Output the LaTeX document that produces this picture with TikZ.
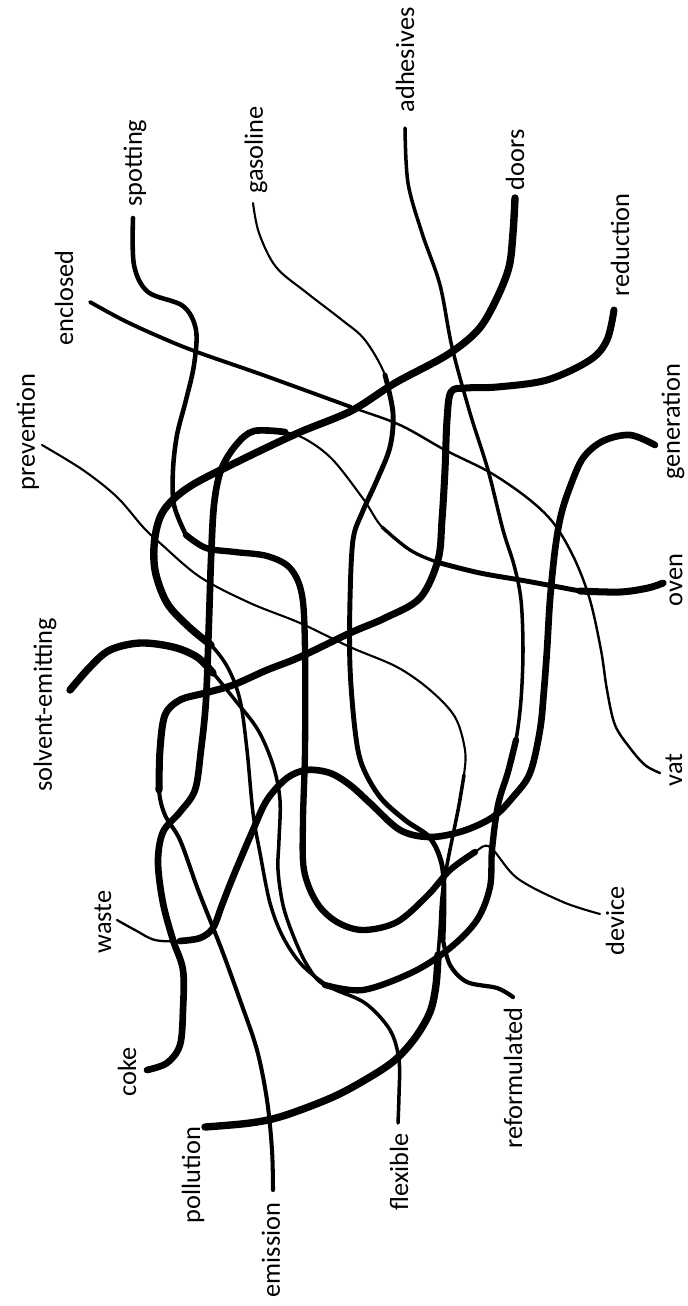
\documentclass[tikz,border=0pt]{standalone}
\usepackage{fontspec}
\setmainfont{Carlito}
\usepackage{tikz}

\begin{document}
\begin{tikzpicture}[
  x=0.02cm, y=-0.02cm,
  word/.style={rotate=90, inner sep=0pt, font=\fontsize{15}{18}\selectfont},
  strand/.style={line width=#1, line cap=round, line join=round},
  strand/.default=1.2pt
]
  \fill[white] (0,0) rectangle (688,1306);
  \useasboundingbox (0,0) rectangle (688,1306);

  % words
  \node[word] (adhesives) at (405,60) {adhesives};
  \node[word] (doors) at (515,160) {doors};
  \node[word] (reduction) at (620,245) {reduction};
  \node[word] (gasoline) at (256,150) {gasoline};
  \node[word] (spotting) at (135,163) {spotting};
  \node[word] (enclosed) at (64,298) {enclosed};
  \node[word] (prevention) at (28,432) {prevention};
  \node[word] (generation) at (673,422) {generation};
  \node[word] (oven) at (676,580) {oven};
  \node[word] (solvent) at (45,705) {solvent-emitting};
  \node[word] (vat) at (674,770) {vat};
  \node[word] (waste) at (103,922) {waste};
  \node[word] (device) at (615,921) {device};
  \node[word] (coke) at (127,1072) {coke};
  \node[word] (reformulated) at (513,1078) {reformulated};
  \node[word] (pollution) at (193,1175) {pollution};
  \node[word] (emission) at (271,1250) {emission};
  \node[word] (flexible) at (399,1172) {flexible};

  % loose ends of the strands
  \coordinate (spot-end) at (133,218);
  \coordinate (dev-end) at (600,914);
  \coordinate (coke-end) at (147,1070);
  \coordinate (oven-end) at (663,583);
  \coordinate (prev-end) at (42,445);
  \coordinate (poll-end) at (205,1127);
  \coordinate (encl-end) at (90,302);
  \coordinate (vat-end) at (660,773);
  \coordinate (red-end) at (614,310);
  \coordinate (emis-end) at (273,1190);
  \coordinate (waste-end) at (117,920);
  \coordinate (gen-end) at (655,445);
  \coordinate (doors-end) at (515,198);
  \coordinate (flex-end) at (398,1123);
  \coordinate (solv-end) at (70,690);
  \coordinate (adh-end) at (405,128);
  \coordinate (gas-end) at (253,203);
  \coordinate (ref-end) at (513,997);

  % spotting -- device
  \draw[strand] plot[smooth, tension=0.55] coordinates {(spot-end) (134,265) (148,292) (183,306) (196,330) (194,365) (186,400) (177,435) (173,470) (174,505) (186,535) (206,548) (235,552) (267,556) (290,568) (302,595) (305,650) (305,750) (303,820) (304,870) (317,903) (337,922) (363,930) (397,922) (428,895) (450,870) (475,852) (490,847) (517,878) (563,902) (dev-end)};
  \draw[strand=2.6pt] plot[smooth, tension=0.55] coordinates {(spot-end) (134,265) (148,292) (183,306) (196,330) (194,365) (186,400) (177,435) (173,470) (174,505) (186,535)};
  \draw[strand=3.6pt] plot[smooth, tension=0.55] coordinates {(186,535) (206,548) (235,552) (267,556) (290,568) (302,595) (305,650) (305,750) (303,820) (304,870) (317,903) (337,922) (363,930) (397,922) (428,895) (450,870) (475,852)};

  % coke -- oven
  \draw[strand] plot[smooth, tension=0.55] coordinates {(coke-end) (167,1063) (180,1045) (183,1010) (183,970) (173,940) (163,903) (158,862) (163,832) (180,812) (195,790) (201,750) (206,700) (209,620) (211,560) (214,505) (221,470) (236,445) (254,431) (285,432) (307,440) (333,460) (364,500) (382,527) (410,550) (440,563) (480,573) (526,581) (580,591) (620,592) (648,588) (oven-end)};
  \draw[strand=3.8pt] plot[smooth, tension=0.55] coordinates {(coke-end) (167,1063) (180,1045) (183,1010) (183,970) (173,940) (163,903) (158,862) (163,832) (180,812) (195,790) (201,750) (206,700) (209,620) (211,560) (214,505) (221,470) (236,445) (254,431) (285,432)};
  \draw[strand=1.9pt] plot[smooth, tension=0.55] coordinates {(382,527) (410,550) (440,563) (480,573)};
  \draw[strand=2.8pt] plot[smooth, tension=0.55] coordinates {(440,563) (480,573) (526,581) (580,591)};
  \draw[strand=4pt] plot[smooth, tension=0.55] coordinates {(580,591) (620,592) (648,588) (oven-end)};

  % prevention -- pollution
  \draw[strand] plot[smooth, tension=0.55] coordinates {(prev-end) (83,470) (117,497) (143,527) (160,543) (200,577) (250,603) (300,623) (350,647) (397,667) (430,690) (455,717) (465,750) (464,775) (459,805) (453,835) (447,865) (442,897) (440,930) (438,955) (436,985) (430,1012) (415,1038) (395,1060) (370,1077) (333,1097) (283,1116) (250,1123) (poll-end)};
  \draw[strand=2pt] plot[smooth, tension=0.55] coordinates {(464,775) (459,805) (453,835) (447,865) (442,897) (440,930) (438,955)};
  \draw[strand=4.2pt] plot[smooth, tension=0.55] coordinates {(438,955) (436,985) (430,1012) (415,1038) (395,1060) (370,1077) (333,1097) (283,1116) (250,1123) (poll-end)};

  % enclosed -- vat
  \draw[strand=1.4pt] plot[smooth, tension=0.55] coordinates {(encl-end) (123,320) (160,337) (197,352) (263,375) (351,407) (400,425) (445,450) (491,473) (530,500) (555,525) (575,560) (590,600) (601,650) (607,690) (615,725) (630,748) (645,765) (vat-end)};
  \draw[strand=2.2pt] plot[smooth, tension=0.55] coordinates {(encl-end) (123,320) (160,337) (197,352) (263,375) (351,407)};

  % reduction -- emission
  \draw[strand=2.3pt] plot[smooth, tension=0.55] coordinates {(red-end) (607,340) (590,360) (547,380) (497,387) (466,388) (451,392) (447,420) (445,470) (442,520) (438,560) (420,598) (385,618) (350,633) (300,657) (267,670) (233,685) (205,693) (180,700) (165,715) (160,750) (159,790) (165,815) (180,840) (197,887) (210,920) (223,953) (240,1000) (257,1050) (267,1100) (272,1150) (emis-end)};
  \draw[strand=4pt] plot[smooth, tension=0.55] coordinates {(red-end) (607,340) (590,360) (547,380) (497,387) (466,388) (451,392) (447,420) (445,470) (442,520) (438,560) (420,598) (385,618) (350,633) (300,657) (267,670) (233,685) (205,693) (180,700) (165,715) (160,750) (159,790)};

  % waste -- generation
  \draw[strand=1.3pt] plot[smooth, tension=0.55] coordinates {(waste-end) (135,930) (155,940) (180,941) (200,938) (213,928) (222,905) (233,877) (253,830) (267,800) (287,778) (307,770) (330,773) (350,785) (370,803) (400,830) (430,837) (463,831) (493,817) (513,797) (530,773) (540,730) (544,690) (547,650) (550,600) (555,550) (561,515) (570,487) (583,458) (603,441) (630,435) (gen-end)};
  \draw[strand=3.8pt] plot[smooth, tension=0.55] coordinates {(180,941) (200,938) (213,928) (222,905) (233,877) (253,830) (267,800) (287,778) (307,770) (330,773) (350,785) (370,803) (400,830) (430,837) (463,831) (493,817) (513,797) (530,773) (540,730) (544,690) (547,650) (550,600) (555,550) (561,515) (570,487) (583,458) (603,441) (630,435) (gen-end)};

  % doors -- flexible
  \draw[strand=2pt] plot[smooth, tension=0.55] coordinates {(doors-end) (513,233) (509,267) (496,300) (478,330) (447,355) (395,383) (351,411) (298,433) (237,462) (189,487) (164,510) (155,537) (155,570) (167,603) (189,627) (211,645) (228,668) (240,700) (247,750) (253,813) (260,853) (270,903) (283,937) (302,965) (330,987) (365,1003) (390,1030) (399,1060) (399,1095) (flex-end)};
  \draw[strand=4.2pt] plot[smooth, tension=0.55] coordinates {(doors-end) (513,233) (509,267) (496,300) (478,330) (447,355) (395,383) (351,411) (298,433) (237,462) (189,487) (164,510) (155,537) (155,570) (167,603) (189,627) (211,645)};

  % solvent-emitting -- adhesives
  \draw[strand=2pt] plot[smooth, tension=0.55] coordinates {(solv-end) (90,667) (110,650) (140,643) (173,647) (197,657) (213,673) (235,700) (258,730) (273,765) (280,800) (279,840) (278,870) (283,905) (293,935) (307,965) (325,985) (363,990) (413,972) (450,948) (477,920) (490,887) (492,850) (498,805) (508,772) (516,740) (521,700) (523,650) (521,600) (514,565) (503,530) (488,470) (470,413) (452,347) (440,285) (422,233) (408,183) (adh-end)};
  \draw[strand=4.2pt] plot[smooth, tension=0.55] coordinates {(solv-end) (90,667) (110,650) (140,643) (173,647) (197,657) (213,673)};
  \draw[strand=3.6pt] plot[smooth, tension=0.55] coordinates {(325,985) (363,990) (413,972) (450,948) (477,920) (490,887) (492,850) (498,805) (508,772) (516,740)};

  % gasoline -- reformulated
  \draw[strand] plot[smooth, tension=0.55] coordinates {(gas-end) (259,233) (276,267) (307,293) (342,320) (365,340) (385,375) (393,413) (390,447) (377,480) (362,513) (353,540) (350,600) (350,667) (355,730) (362,765) (380,797) (405,820) (430,838) (442,865) (444,900) (443,940) (450,965) (467,982) (497,988) (ref-end)};
  \draw[strand=2.8pt] plot[smooth, tension=0.55] coordinates {(385,375) (393,413) (390,447) (377,480) (362,513) (353,540) (350,600) (350,667) (355,730) (362,765) (380,797) (405,820) (430,838) (442,865) (444,900) (443,940)};
  \draw[strand=2.4pt] plot[smooth, tension=0.55] coordinates {(443,940) (450,965) (467,982) (497,988) (ref-end)};
\end{tikzpicture}
\end{document}
